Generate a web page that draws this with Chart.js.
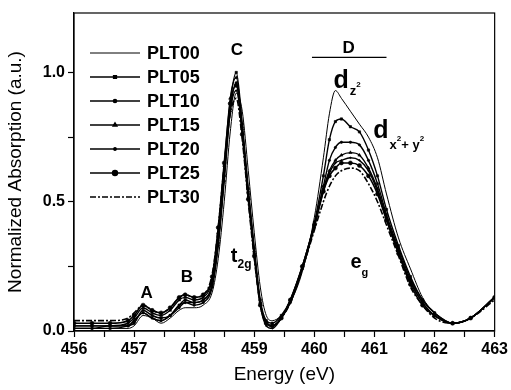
<!DOCTYPE html>
<html>
<head>
<meta charset="utf-8">
<script src="https://cdn.jsdelivr.net/npm/chart.js@4.4.1/dist/chart.umd.min.js"></script>
<style>
  html, body { margin: 0; padding: 0; background: #fff; }
  #wrap { width: 511px; height: 390px; }
</style>
</head>
<body>
<div id="wrap"><canvas id="xanesChart"></canvas></div>
<script>
const energy = [456.0, 456.3, 456.6, 456.9, 457.0, 457.15, 457.3, 457.45, 457.6, 457.75, 457.85, 458.0, 458.15,
  458.3, 458.4, 458.5, 458.6, 458.7, 458.8, 458.9, 459.0, 459.1, 459.2, 459.3, 459.45, 459.6, 459.8, 460.0,
  460.15, 460.25, 460.35, 460.45, 460.6, 460.75, 460.9, 461.05, 461.2, 461.4, 461.6, 461.8, 462.0, 462.3, 462.6, 463.0];

const plt00 = [0.01, 0.01, 0.01, 0.01, 0.02, 0.06, 0.05, 0.03, 0.05, 0.08, 0.09, 0.09, 0.10,
  0.15, 0.28, 0.50, 0.77, 0.92, 0.85, 0.62, 0.38, 0.17, 0.06, 0.04, 0.06, 0.11, 0.23, 0.44,
  0.67, 0.84, 0.93, 0.90, 0.85, 0.80, 0.75, 0.67, 0.53, 0.36, 0.24, 0.13, 0.07, 0.03, 0.05, 0.13];
const plt05 = [0.01, 0.01, 0.01, 0.02, 0.03, 0.08, 0.06, 0.05, 0.06, 0.10, 0.12, 0.11, 0.12,
  0.18, 0.34, 0.60, 0.88, 1.00, 0.80, 0.55, 0.32, 0.12, 0.04, 0.03, 0.06, 0.12, 0.25, 0.42,
  0.60, 0.74, 0.81, 0.82, 0.79, 0.77, 0.70, 0.60, 0.47, 0.33, 0.21, 0.12, 0.07, 0.03, 0.05, 0.13];
const plt10 = [0.02, 0.02, 0.02, 0.02, 0.04, 0.07, 0.05, 0.04, 0.06, 0.09, 0.11, 0.10, 0.11,
  0.17, 0.33, 0.58, 0.85, 0.96, 0.78, 0.53, 0.30, 0.11, 0.03, 0.02, 0.05, 0.11, 0.24, 0.41,
  0.56, 0.66, 0.71, 0.73, 0.73, 0.72, 0.66, 0.57, 0.45, 0.32, 0.20, 0.12, 0.07, 0.03, 0.05, 0.13];
const plt15 = [0.02, 0.02, 0.02, 0.03, 0.05, 0.09, 0.07, 0.06, 0.08, 0.12, 0.13, 0.12, 0.13,
  0.20, 0.38, 0.64, 0.90, 0.98, 0.79, 0.54, 0.31, 0.11, 0.03, 0.02, 0.05, 0.12, 0.25, 0.41,
  0.55, 0.62, 0.66, 0.68, 0.69, 0.68, 0.63, 0.55, 0.44, 0.31, 0.19, 0.11, 0.06, 0.03, 0.05, 0.13];
const plt20 = [0.01, 0.01, 0.02, 0.02, 0.04, 0.07, 0.05, 0.04, 0.06, 0.10, 0.11, 0.11, 0.12,
  0.18, 0.35, 0.60, 0.85, 0.93, 0.77, 0.52, 0.30, 0.10, 0.02, 0.01, 0.05, 0.11, 0.24, 0.40,
  0.54, 0.61, 0.65, 0.66, 0.67, 0.66, 0.62, 0.54, 0.43, 0.30, 0.19, 0.11, 0.06, 0.03, 0.05, 0.13];
const plt25 = [0.03, 0.03, 0.03, 0.04, 0.06, 0.10, 0.08, 0.07, 0.09, 0.13, 0.14, 0.13, 0.14,
  0.21, 0.40, 0.65, 0.88, 0.95, 0.76, 0.51, 0.29, 0.10, 0.03, 0.02, 0.05, 0.12, 0.25, 0.41,
  0.54, 0.60, 0.63, 0.65, 0.65, 0.64, 0.60, 0.53, 0.43, 0.30, 0.18, 0.10, 0.06, 0.03, 0.05, 0.13];
const plt30 = [0.04, 0.04, 0.04, 0.05, 0.07, 0.10, 0.08, 0.07, 0.09, 0.13, 0.14, 0.13, 0.14,
  0.22, 0.40, 0.64, 0.84, 0.90, 0.74, 0.50, 0.28, 0.10, 0.03, 0.02, 0.05, 0.11, 0.24, 0.39,
  0.50, 0.56, 0.60, 0.62, 0.63, 0.62, 0.57, 0.50, 0.41, 0.29, 0.17, 0.10, 0.05, 0.03, 0.05, 0.12];

const seriesNames = ["PLT00", "PLT05", "PLT10", "PLT15", "PLT20", "PLT25", "PLT30"];
const seriesValues = [plt00, plt05, plt10, plt15, plt20, plt25, plt30];
const xTickLabels = [456, 457, 458, 459, 460, 461, 462, 463];
const yTickLabels = [0, 0.5, 1.0];

const font = "'Liberation Sans', Arial, sans-serif";

// marker look per series, same order as seriesNames
const looks = [
  { pointStyle: false, radius: 0, width: 1, dash: [] },
  { pointStyle: "rect", radius: 1.6, width: 1.4, dash: [] },
  { pointStyle: "circle", radius: 1.2, width: 1.4, dash: [] },
  { pointStyle: "triangle", radius: 1.8, width: 1.4, dash: [] },
  { pointStyle: "circle", radius: 0.8, width: 1.4, dash: [] },
  { pointStyle: "circle", radius: 2, width: 1.6, dash: [] },
  { pointStyle: false, radius: 0, width: 1.6, dash: [6, 2, 2, 2] },
];

const datasets = seriesNames.map((name, i) => ({
  label: name,
  data: energy.map((e, j) => ({ x: e, y: seriesValues[i][j] })),
  borderColor: "#000",
  backgroundColor: "#000",
  borderWidth: looks[i].width,
  borderDash: looks[i].dash,
  pointStyle: looks[i].pointStyle,
  pointRadius: looks[i].radius,
  pointBorderWidth: 0.6,
  cubicInterpolationMode: "monotone",
  fill: false,
}));

// text notes placed in data coordinates
function note(ctx, chart, x, y, parts) {
  const sx = chart.scales.x, sy = chart.scales.y;
  let px = sx.getPixelForValue(x);
  const py = sy.getPixelForValue(y);
  parts.forEach((p) => {
    ctx.font = "bold " + p.size + "px " + font;
    ctx.fillText(p.text, px, py + (p.dy || 0));
    px += ctx.measureText(p.text).width + (p.gap || 0);
  });
}

const annotations = {
  id: "annotations",
  afterDraw(chart) {
    const { ctx, chartArea: a, scales } = chart;
    ctx.save();
    ctx.strokeStyle = "#000";
    ctx.lineWidth = 1.2;
    ctx.strokeRect(a.left, a.top, a.right - a.left, a.bottom - a.top);

    // legend inside the plot, top left
    chart.data.datasets.forEach((ds, i) => {
      const y = a.top + 40 + i * 24;
      const x0 = a.left + 16, x1 = x0 + 50;
      ctx.beginPath();
      ctx.setLineDash(ds.borderDash);
      ctx.lineWidth = ds.borderWidth;
      ctx.moveTo(x0, y);
      ctx.lineTo(x1, y);
      ctx.stroke();
      ctx.setLineDash([]);
      if (ds.pointStyle) {
        Chart.helpers.drawPoint(ctx, { pointStyle: ds.pointStyle, radius: ds.pointRadius + 0.4, rotation: 0, borderWidth: 0.6 }, (x0 + x1) / 2, y);
        ctx.fill();
      }
      ctx.fillStyle = "#000";
      ctx.font = "bold 18px " + font;
      ctx.textBaseline = "middle";
      ctx.textAlign = "left";
      ctx.fillText(ds.label, x1 + 7, y + 1);
    });

    ctx.fillStyle = "#000";
    ctx.textBaseline = "alphabetic";
    ctx.textAlign = "center";
    ctx.font = "bold 17px " + font;
    ctx.fillText("A", scales.x.getPixelForValue(457.21), scales.y.getPixelForValue(0.128));
    ctx.fillText("B", scales.x.getPixelForValue(457.88), scales.y.getPixelForValue(0.19));
    ctx.fillText("C", scales.x.getPixelForValue(458.71), scales.y.getPixelForValue(1.068));
    ctx.fillText("D", scales.x.getPixelForValue(460.57), scales.y.getPixelForValue(1.075));
    const ly = scales.y.getPixelForValue(1.058);
    ctx.beginPath();
    ctx.lineWidth = 1.2;
    ctx.moveTo(scales.x.getPixelForValue(459.96), ly);
    ctx.lineTo(scales.x.getPixelForValue(461.2), ly);
    ctx.stroke();

    ctx.textAlign = "left";
    note(ctx, chart, 460.32, 0.94, [
      { text: "d", size: 25, gap: 1 },
      { text: "z", size: 13, dy: 7 },
      { text: "2", size: 8, dy: -1 },
    ]);
    note(ctx, chart, 460.98, 0.747, [
      { text: "d", size: 25, gap: 1 },
      { text: "x", size: 13, dy: 11 },
      { text: "2", size: 8, dy: 3 },
      { text: "+ y", size: 13, dy: 11 },
      { text: "2", size: 8, dy: 3 },
    ]);
    note(ctx, chart, 458.61, 0.267, [
      { text: "t", size: 20, gap: 0 },
      { text: "2g", size: 12, dy: 6 },
    ]);
    note(ctx, chart, 460.6, 0.244, [
      { text: "e", size: 20, gap: 0 },
      { text: "g", size: 11, dy: 8 },
    ]);
    ctx.restore();
  },
};

new Chart(document.getElementById("xanesChart"), {
  type: "line",
  data: { datasets },
  plugins: [annotations],
  options: {
    responsive: true,
    maintainAspectRatio: false,
    animation: false,
    devicePixelRatio: 1,
    layout: { padding: { top: 13, right: 14, left: 0, bottom: 0 } },
    plugins: {
      legend: { display: false },
      tooltip: { enabled: false },
    },
    scales: {
      x: {
        type: "linear",
        min: 456,
        max: 463,
        afterFit: (s) => { s.height = 59; },
        ticks: {
          stepSize: 0.5,
          autoSkip: false,
          maxRotation: 0,
          padding: 3,
          color: "#000",
          font: { family: font, size: 16, weight: "bold" },
          callback: (v) => (xTickLabels.includes(v) ? String(v) : ""),
        },
        grid: { drawOnChartArea: false, tickLength: 6, tickColor: "#000", tickWidth: 1.2 },
        border: { color: "#000", width: 1.2 },
        title: { display: true, text: "Energy (eV)", color: "#000", font: { family: font, size: 19 }, padding: { top: 2, bottom: 4 } },
      },
      y: {
        min: 0,
        max: 1.23,
        afterFit: (s) => { s.width = 74; },
        ticks: {
          stepSize: 0.25,
          includeBounds: false,
          padding: 3,
          color: "#000",
          font: { family: font, size: 16, weight: "bold" },
          callback: (v) => (yTickLabels.includes(v) ? v.toFixed(1) : ""),
        },
        grid: { drawOnChartArea: false, tickLength: 6, tickColor: "#000", tickWidth: 1.2 },
        border: { color: "#000", width: 1.2 },
        title: { display: true, text: "Normalized Absorption (a.u.)", color: "#000", font: { family: font, size: 19 }, padding: { top: 4, bottom: 4 } },
      },
    },
  },
});
</script>
</body>
</html>
